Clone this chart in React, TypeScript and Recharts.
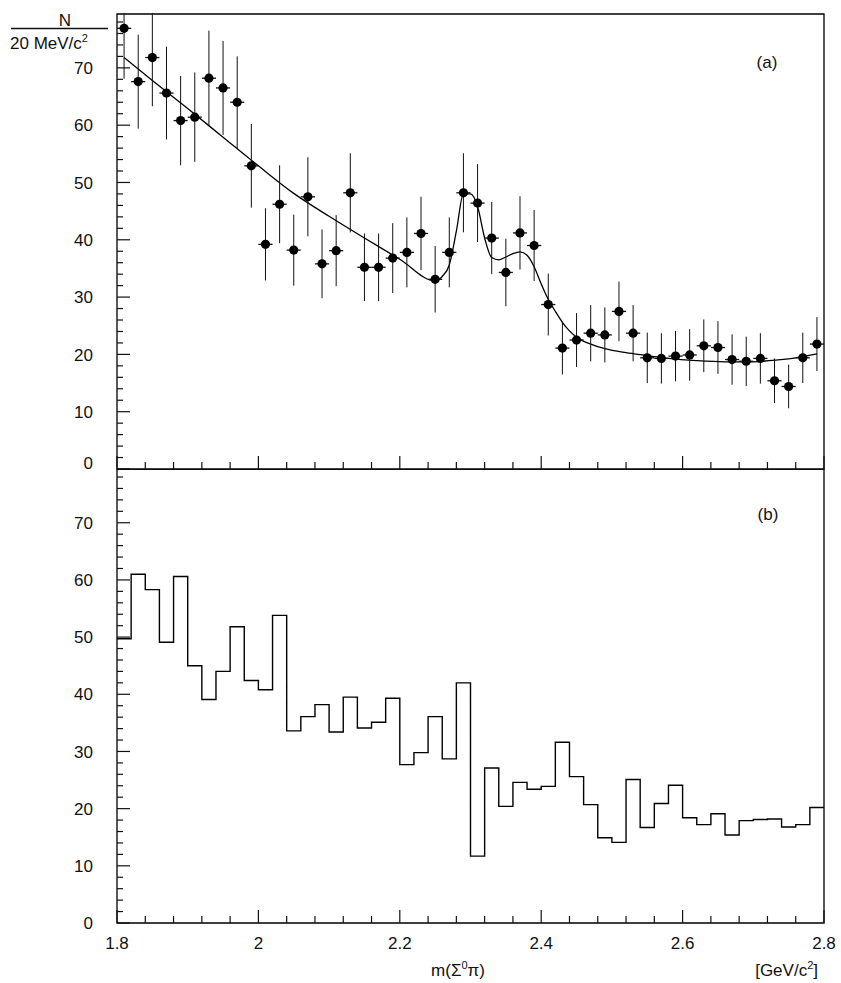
import React from 'react';
import { ComposedChart, Scatter, Line, XAxis, YAxis, ErrorBar, ReferenceArea } from 'recharts';

const FONT = '"Liberation Sans", Arial, sans-serif';
const Y_MAX = 79.4;

// bin centres (20 MeV bins)
const BIN_CENTERS = [
  1.81, 1.83, 1.85, 1.87, 1.89, 1.91, 1.93, 1.95, 1.97, 1.99,
  2.01, 2.03, 2.05, 2.07, 2.09, 2.11, 2.13, 2.15, 2.17, 2.19,
  2.21, 2.23, 2.25, 2.27, 2.29, 2.31, 2.33, 2.35, 2.37, 2.39,
  2.41, 2.43, 2.45, 2.47, 2.49, 2.51, 2.53, 2.55, 2.57, 2.59,
  2.61, 2.63, 2.65, 2.67, 2.69, 2.71, 2.73, 2.75, 2.77, 2.79,
];
const BIN_HALF = 0.01;

// panel (a): measured counts and errors
const A_COUNTS = [
  76.9, 67.6, 71.8, 65.6, 60.8, 61.4, 68.2, 66.5, 64.0, 52.9,
  39.2, 46.2, 38.2, 47.5, 35.8, 38.1, 48.2, 35.2, 35.2, 36.8,
  37.8, 41.1, 33.1, 37.8, 48.2, 46.4, 40.3, 34.3, 41.2, 39.0,
  28.7, 21.1, 22.5, 23.7, 23.4, 27.5, 23.7, 19.4, 19.3, 19.7,
  19.9, 21.5, 21.2, 19.1, 18.8, 19.3, 15.4, 14.4, 19.4, 21.8,
];
const A_ERRORS = [
  8.8, 8.2, 8.5, 8.1, 7.8, 7.8, 8.3, 8.2, 8.0, 7.3,
  6.3, 6.8, 6.2, 6.9, 6.0, 6.2, 6.9, 5.9, 5.9, 6.1,
  6.1, 6.4, 5.8, 6.1, 6.9, 6.8, 6.3, 5.9, 6.4, 6.2,
  5.4, 4.6, 4.7, 4.9, 4.8, 5.2, 4.9, 4.4, 4.4, 4.4,
  4.5, 4.6, 4.6, 4.4, 4.3, 4.4, 3.9, 3.8, 4.4, 4.7,
];

// panel (a): fitted curve
const FIT_X = [
  1.81, 1.85, 1.9, 1.95, 2.0, 2.05, 2.1, 2.15, 2.2, 2.25, 2.26, 2.27, 2.28, 2.29,
  2.3, 2.31, 2.32, 2.33, 2.34, 2.35, 2.36, 2.37, 2.38, 2.39, 2.4, 2.41, 2.42, 2.43,
  2.44, 2.45, 2.47, 2.49, 2.52, 2.55, 2.58, 2.62, 2.66, 2.7, 2.73, 2.76, 2.79,
];
const FIT_Y = [
  71.8, 67.8, 62.9, 57.9, 52.9, 48.1, 44.1, 40.3, 36.6, 32.8, 33.6, 35.6, 41.5, 48.0,
  48.0, 45.8, 40.3, 36.9, 36.5, 37.0, 37.6, 37.9, 37.3, 35.3, 32.3, 29.6, 27.5, 25.6,
  24.1, 23.0, 21.8, 21.0, 20.3, 19.8, 19.3, 18.9, 18.7, 18.7, 19.0, 19.4, 20.1,
];

// panel (b): histogram, bin lower edges + closing edge
const B_EDGES = [
  1.8, 1.82, 1.84, 1.86, 1.88, 1.9, 1.92, 1.94, 1.96, 1.98,
  2.0, 2.02, 2.04, 2.06, 2.08, 2.1, 2.12, 2.14, 2.16, 2.18,
  2.2, 2.22, 2.24, 2.26, 2.28, 2.3, 2.32, 2.34, 2.36, 2.38,
  2.4, 2.42, 2.44, 2.46, 2.48, 2.5, 2.52, 2.54, 2.56, 2.58,
  2.6, 2.62, 2.64, 2.66, 2.68, 2.7, 2.72, 2.74, 2.76, 2.78, 2.8,
];
const B_COUNTS = [
  49.7, 61.0, 58.3, 49.1, 60.6, 45.0, 39.1, 44.0, 51.8, 42.4,
  40.8, 53.8, 33.6, 36.1, 38.2, 33.4, 39.5, 34.1, 35.1, 39.3,
  27.7, 29.8, 36.1, 28.7, 42.0, 11.7, 27.1, 20.4, 24.6, 23.4,
  23.9, 31.6, 25.6, 20.7, 14.9, 14.1, 25.1, 16.7, 20.9, 24.1,
  18.4, 17.2, 19.1, 15.4, 17.9, 18.1, 18.2, 16.8, 17.2, 20.2,
];

const X_LABELS = [1.8, 2, 2.2, 2.4, 2.6, 2.8];
const Y_LABELS = [0, 10, 20, 30, 40, 50, 60, 70];
// minor tick marks every 0.04 GeV and every 2 counts
const X_TICKS = Array.from({ length: 26 }, (_, i) => +(1.8 + 0.04 * i).toFixed(2));
const Y_TICKS = Array.from({ length: 40 }, (_, i) => i * 2);

const pointData = BIN_CENTERS.map((x, i) => ({ x, y: A_COUNTS[i], yerr: A_ERRORS[i], xerr: BIN_HALF }));
const fitData = FIT_X.map((x, i) => ({ x, y: FIT_Y[i] }));
const histData = B_EDGES.map((x, i) => ({ x, y: B_COUNTS[Math.min(i, B_COUNTS.length - 1)] }));

const isLabel = (list: number[], v: number) => list.some(l => Math.abs(l - v) < 1e-6);

const YTick = (props: any) => {
  const { x, y, payload, lift0 } = props;
  const v = payload.value;
  const major = isLabel(Y_LABELS, v);
  const ty = lift0 && v === 0 ? y - 6 : y;
  return (
    <g>
      <line x1={x} x2={x + (major ? 13 : 6)} y1={y} y2={y} stroke="#111" strokeWidth={1.2} />
      {major && (
        <text x={x - 24} y={ty} dy="0.36em" textAnchor="end" fontSize={17} fontFamily={FONT} fill="#111">
          {v}
        </text>
      )}
    </g>
  );
};

const XTick = (props: any) => {
  const { x, y, payload, showLabel } = props;
  const v = payload.value;
  const major = isLabel(X_LABELS, v);
  return (
    <g>
      <line x1={x} x2={x} y1={y} y2={y - (major ? 13 : 7)} stroke="#111" strokeWidth={1.2} />
      {showLabel && major && (
        <text x={x} y={y + 20} dy="0.36em" textAnchor="middle" fontSize={17} fontFamily={FONT} fill="#111">
          {String(v)}
        </text>
      )}
    </g>
  );
};

const Dot = (p: any) => <circle cx={p.cx} cy={p.cy} r={4.6} fill="#000" />;

const App: React.FC = () => {
  return (
    <div style={{ position: 'absolute', left: 0, top: 0, width: 841, height: 983, background: '#fff' }}>
      {/* (a) data with fit; error bars cut at the top frame */}
      <div style={{ position: 'absolute', left: 0, top: 0, clipPath: 'inset(13px 0 0 0)' }}>
        <ComposedChart width={841} height={480} margin={{ top: 14, right: 17, bottom: 0, left: 0 }}>
          <XAxis
            type="number" dataKey="x" domain={[1.8, 2.8]} ticks={X_TICKS} interval={0} height={11}
            axisLine={false} tickLine={false} tickSize={0} tickMargin={0} allowDataOverflow
            tick={<XTick showLabel={false} />}
          />
          <YAxis
            type="number" dataKey="y" domain={[0, Y_MAX]} ticks={Y_TICKS} interval={0} width={117}
            axisLine={false} tickLine={false} tickSize={0} tickMargin={0} allowDataOverflow
            tick={<YTick lift0 />}
          />
          <ReferenceArea x1={1.8} x2={2.8} y1={0} y2={Y_MAX} fill="none" stroke="#000" strokeWidth={1.3} ifOverflow="visible" />
          <Line data={fitData} dataKey="y" type="monotone" dot={false} stroke="#000" strokeWidth={1.3} isAnimationActive={false} />
          <Scatter data={pointData} dataKey="y" shape={Dot} isAnimationActive={false}>
            <ErrorBar dataKey="yerr" direction="y" width={0} stroke="#111" strokeWidth={1} isAnimationActive={false} />
            <ErrorBar dataKey="xerr" direction="x" width={0} stroke="#111" strokeWidth={1.3} isAnimationActive={false} />
          </Scatter>
        </ComposedChart>
      </div>

      {/* (b) histogram */}
      <div style={{ position: 'absolute', left: 0, top: 469 }}>
        <ComposedChart width={841} height={514} margin={{ top: 0, right: 17, bottom: 0, left: 0 }}>
          <XAxis
            type="number" dataKey="x" domain={[1.8, 2.8]} ticks={X_TICKS} interval={0} height={60}
            axisLine={false} tickLine={false} tickSize={0} tickMargin={0} allowDataOverflow
            tick={<XTick showLabel />}
          />
          <YAxis
            type="number" dataKey="y" domain={[0, Y_MAX]} ticks={Y_TICKS} interval={0} width={117}
            axisLine={false} tickLine={false} tickSize={0} tickMargin={0} allowDataOverflow
            tick={<YTick />}
          />
          <ReferenceArea x1={1.8} x2={2.8} y1={0} y2={Y_MAX} fill="none" stroke="#000" strokeWidth={1.3} ifOverflow="visible" />
          <Line data={histData} dataKey="y" type="stepAfter" dot={false} stroke="#000" strokeWidth={1.4} isAnimationActive={false} />
        </ComposedChart>
      </div>

      {/* labels */}
      <svg width={841} height={983} style={{ position: 'absolute', left: 0, top: 0, pointerEvents: 'none' }}>
        <g fontFamily={FONT} fill="#111" fontSize={17}>
          <text x={65} y={26} textAnchor="middle">N</text>
          <line x1={11} x2={108} y1={28.5} y2={28.5} stroke="#111" strokeWidth={1.5} />
          <text x={10} y={49}>
            20 MeV/c<tspan dy={-7} fontSize={11}>2</tspan>
          </text>
          <text x={767} y={68} textAnchor="middle">(a)</text>
          <text x={768} y={520} textAnchor="middle">(b)</text>
          <text x={458} y={976} textAnchor="middle">
            m(Σ<tspan dy={-7} fontSize={11}>0</tspan><tspan dy={7}>π)</tspan>
          </text>
          <text x={818} y={976} textAnchor="end">
            [GeV/c<tspan dy={-7} fontSize={11}>2</tspan><tspan dy={7}>]</tspan>
          </text>
        </g>
      </svg>
    </div>
  );
};

export default App;
